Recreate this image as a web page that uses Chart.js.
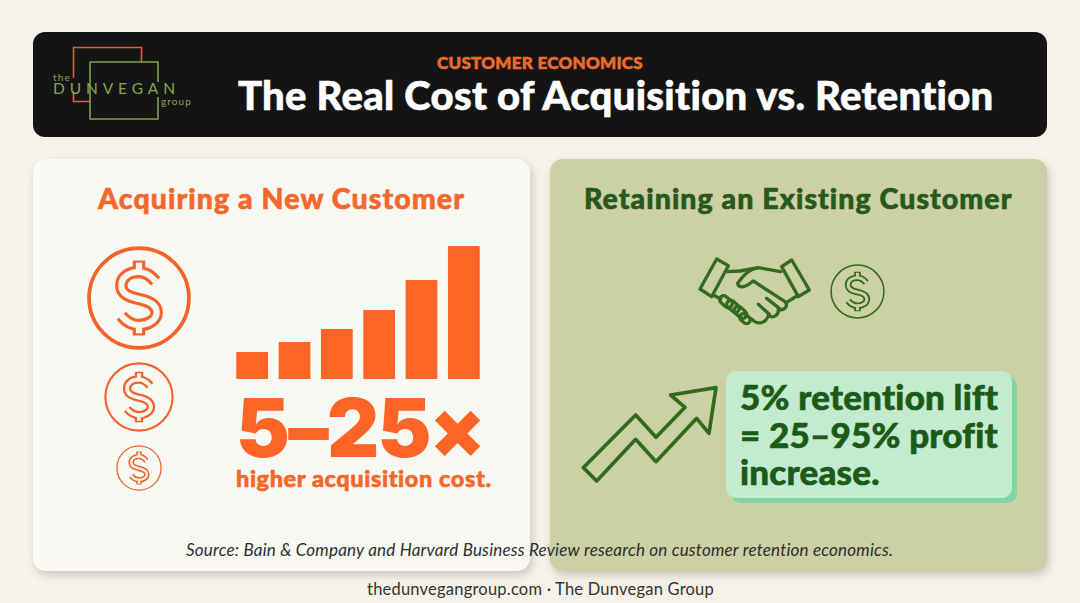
<!DOCTYPE html>
<html>

<head>
  <title>The Real Cost of Acquisition vs. Retention</title>
  <meta charset="UTF-8">
  <script src="https://cdn.jsdelivr.net/npm/chart.js"></script>
  <style>
    html, body {
      margin: 0;
      width: 1080px;
      height: 603px;
      overflow: hidden;
      background: #f6f2e9;
      font-family: Lato, sans-serif;
    }

    .box { position: absolute; }

    .txt {
      position: absolute;
      white-space: nowrap;
      line-height: 1;
    }

    .heavy { font-weight: 900; -webkit-text-stroke: 0.6px currentColor; }

    .panel {
      position: absolute;
      top: 159px;
      width: 497px;
      height: 412px;
      border-radius: 13px;
      box-shadow: 2px 4px 9px rgba(90, 85, 60, 0.28);
    }

    svg { position: absolute; overflow: visible; }

    #barWrap {
      position: absolute;
      left: 231px;
      top: 239px;
      width: 254px;
      height: 140px;
    }
  </style>
</head>

<body>
  <svg width="0" height="0">
    <symbol id="dollar" viewBox="0 0 100 100" overflow="visible">
      <circle cx="50" cy="50" r="48" fill="none" stroke="var(--fg)" stroke-width="var(--ring)" />
      <g fill="none" stroke-linejoin="round">
        <path d="M66 34C60 27 55 25 50 25C40 25 33 30 33 38C33 47 42 49 50 51C59 53 67 56 67 64C67 71 59 76 50 76C44 76 38 73 33 67M50 25V14M50 76V86" stroke="var(--fg)" stroke-width="var(--outer)" />
        <path d="M66 34C60 27 55 25 50 25C40 25 33 30 33 38C33 47 42 49 50 51C59 53 67 56 67 64C67 71 59 76 50 76C44 76 38 73 33 67M50 25V16M50 76V84" stroke="var(--bg)" stroke-width="var(--inner)" />
      </g>
    </symbol>
  </svg>

  <div class="box" style="left:33px;top:32px;width:1014px;height:105px;border-radius:12px;background:#141414"></div>
  <svg style="left:0;top:0" width="200" height="130" fill="none" stroke-width="1.6">
    <path d="M90 101.5H73.5V92M73.5 78V47.5H141.5V62" stroke="#d9603c" />
    <path d="M90 62H158V82M158 97V119H90V62" stroke="#7ea04e" />
  </svg>
  <div class="txt" data-w="18" style="left:53px;top:72px;font-size:10px;color:#86a455">the</div>
  <div class="txt" data-w="127" style="left:53px;top:81px;font-size:15.5px;color:#86a455">DUNVEGAN</div>
  <div class="txt" data-w="31" style="left:161px;top:96px;font-size:10px;color:#86a455">group</div>

  <div class="txt heavy" data-w="206" style="left:437px;top:54px;font-size:17px;color:#ee6a2c">CUSTOMER ECONOMICS</div>
  <div class="txt heavy" data-w="757" style="left:238px;top:75px;font-size:40px;color:#fff">The Real Cost of Acquisition vs. Retention</div>

  <div class="panel" style="left:33px;background:#f9f9f4"></div>
  <div class="panel" style="left:550px;background:#cbd0a5"></div>

  <div class="txt heavy" data-w="367" style="left:98px;top:184px;font-size:28.5px;color:#f5672a">Acquiring a New Customer</div>
  <div class="txt heavy" data-w="429" style="left:584px;top:184px;font-size:28.5px;color:#27581d">Retaining an Existing Customer</div>

  <svg style="left:87px;top:246px;--fg:#f4642a;--bg:#f9f9f4;--ring:3.6;--outer:12;--inner:6" width="104" height="104"><use href="#dollar" /></svg>
  <svg style="left:104px;top:362px;--fg:#f4642a;--bg:#f9f9f4;--ring:3;--outer:12;--inner:5.5" width="70" height="70"><use href="#dollar" /></svg>
  <svg style="left:116px;top:445px;--fg:#f4642a;--bg:#f9f9f4;--ring:2.8;--outer:12;--inner:5" width="46" height="46"><use href="#dollar" /></svg>

  <div id="barWrap"><canvas id="barChart" width="254" height="140"></canvas></div>

  <div class="txt" data-w="248" style="left:236px;top:396px;font-size:81px;font-weight:900;line-height:.8;font-family:Inter;color:#ff6427">5–25×</div>
  <div class="txt heavy" data-w="256" style="left:236px;top:467px;font-size:23.5px;color:#f5672a">higher acquisition cost.</div>

  <svg style="left:570px;top:245px" width="460" height="270" viewBox="0 0 1380 810" fill="none" stroke="#336a20" stroke-width="10" stroke-linejoin="round" stroke-linecap="round">
    <path d="M440 42L475 62L425 155L390 132Z" />
    <path d="M665 45L635 65L685 155L718 135Z" />
    <path d="M473 80L510 78L565 68L632 80" />
    <path d="M565 68C540 72 525 85 503 115C505 128 520 132 550 108L645 170C658 182 640 200 625 192C628 212 605 222 595 210C590 232 565 244 545 222" />
    <path d="M590 160L628 190M565 178L598 208" />
    <path d="M430 150L452 162" />
    <path d="M685 150L650 172" />
    <rect x="447" y="158" width="42" height="24" rx="12" transform="rotate(40 468 170)" />
    <rect x="468" y="172" width="42" height="24" rx="12" transform="rotate(40 489 184)" />
    <rect x="490" y="190" width="42" height="24" rx="12" transform="rotate(40 511 202)" />
    <rect x="508" y="210" width="34" height="22" rx="11" transform="rotate(40 525 221)" />
    <path d="M40 668L197 510L258 577L345 487L302 450L438 428L417 565L380 520L258 650L197 583L80 708Z" stroke-width="11" />
  </svg>
  <svg style="left:830px;top:264px;--fg:#336a20;--bg:#cbd0a5;--ring:2.8;--outer:12;--inner:5.5" width="55" height="55"><use href="#dollar" /></svg>

  <div class="box" style="left:726px;top:371px;width:286px;height:127px;border-radius:10px;background:#c3ebcf;box-shadow:5px 5px 0 #80d6a0"></div>
  <div class="txt heavy" style="left:740px;top:378px;font-size:35px;line-height:37.5px;letter-spacing:.2px;color:#1c5a18">5% retention lift<br>= 25–95% profit<br>increase.</div>

  <div class="txt" data-w="707" style="left:186px;top:541px;font-size:17px;font-style:italic;color:#2e2e2e">Source: Bain &amp; Company and Harvard Business Review research on customer retention economics.</div>
  <div class="txt" data-w="347" style="left:367px;top:581px;font-size:16.5px;color:#333">thedunvegangroup.com · The Dunvegan Group</div>

  <script>
    const barLabels = ['1', '2', '3', '4', '5', '6'];
    const barValues = [27, 37, 50, 69, 99, 133];
    const barColor = '#ff6427';

    // nudge letter spacing so each text spans the same width as the reference
    document.querySelectorAll('.txt[data-w]').forEach(el => {
      const extra = el.dataset.w - el.getBoundingClientRect().width;
      el.style.letterSpacing = (extra / el.textContent.length) + 'px';
    });

    new Chart(document.getElementById('barChart').getContext('2d'), {
      type: 'bar',
      data: {
        labels: barLabels,
        datasets: [{
          data: barValues,
          backgroundColor: barColor,
          barPercentage: 0.75,
          categoryPercentage: 1
        }]
      },
      options: {
        responsive: false,
        animation: false,
        plugins: {
          legend: { display: false },
          tooltip: { enabled: false }
        },
        scales: {
          x: { display: false },
          y: { display: false, min: 0, max: 140 }
        }
      }
    });
  </script>
</body>

</html>
